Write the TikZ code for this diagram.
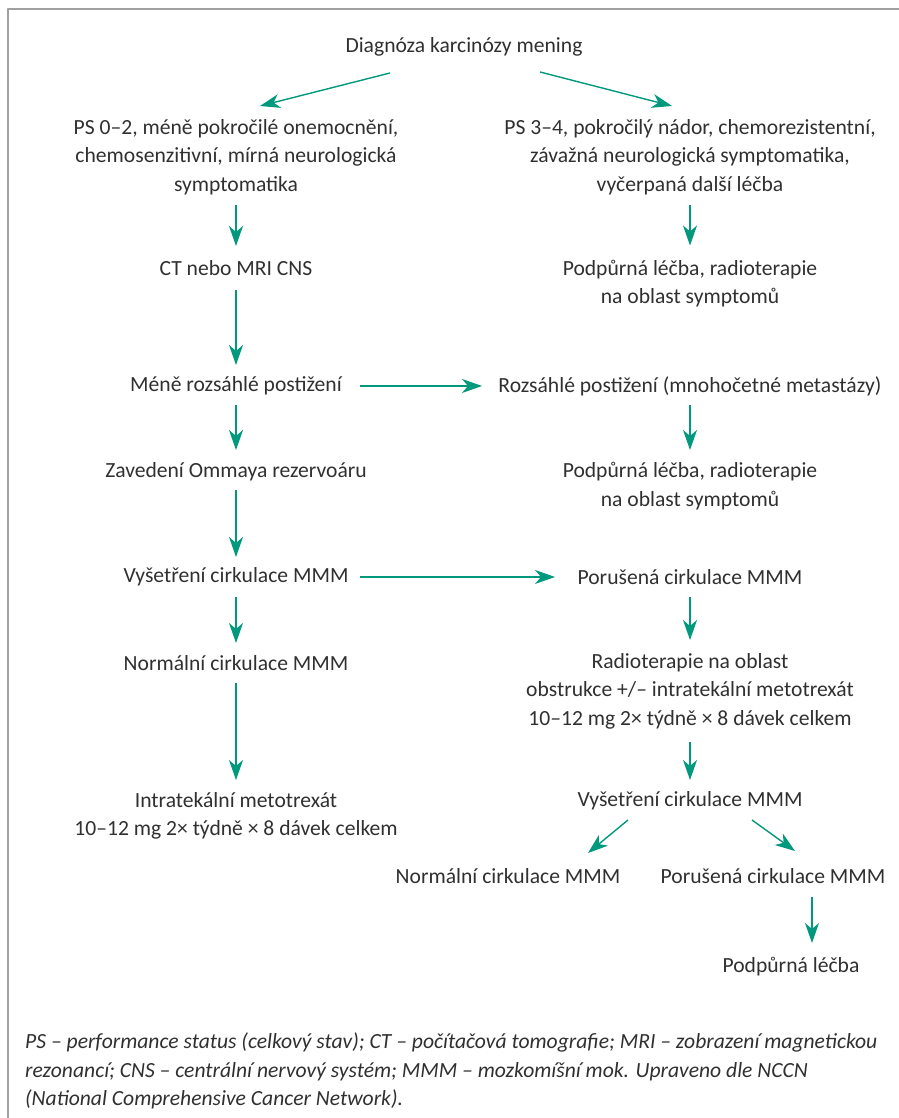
\documentclass[tikz,border=0pt]{standalone}
\usepackage{fontspec}
\setmainfont{Carlito}
\usetikzlibrary{arrows.meta}
\definecolor{flow}{HTML}{00997D}
\definecolor{ink}{HTML}{303030}
\definecolor{rule}{HTML}{A0A0A0}
\begin{document}
\begin{tikzpicture}[>={Stealth[length=20bp,width=14bp,inset=6bp]},line join=bevel,
  every node/.style={text=ink,align=center,inner sep=0pt,font=\fontsize{21.6bp}{28.5bp}\selectfont},
  conn/.style={flow,->,line width=1.4bp}]
%%
\useasboundingbox (0bp,0bp) rectangle (899bp,1118bp);
\draw [rule,line width=2bp] (8bp,0bp) -- (8bp,1109bp) -- (899bp,1109bp);
%%
\node (node_0) at (464.0bp,1071.0bp) {Diagnóza karcinózy mening};
  \node (node_1) at (236.0bp,961.0bp) {PS 0–2, méně pokročilé onemocnění,\\chemosenzitivní, mírná neurologická\\symptomatika};
  \node (node_2) at (690.0bp,961.0bp) {PS 3–4, pokročilý nádor, chemorezistentní,\\závažná neurologická symptomatika,\\vyčerpaná další léčba};
  \node (node_3) at (236.0bp,850.0bp) {CT nebo MRI CNS};
  \node (node_4) at (690.0bp,834.5bp) {Podpůrná léčba, radioterapie\\na oblast symptomů};
  \node (node_5) at (236.0bp,732.0bp) {Méně rozsáhlé postižení};
  \node (node_6) at (690.0bp,732.0bp) {Rozsáhlé postižení (mnohočetné metastázy)};
  \node (node_7) at (236.0bp,646.0bp) {Zavedení Ommaya rezervoáru};
  \node (node_8) at (690.0bp,632.0bp) {Podpůrná léčba, radioterapie\\na oblast symptomů};
  \node (node_9) at (236.0bp,541.0bp) {Vyšetření cirkulace MMM};
  \node (node_10) at (690.0bp,541.0bp) {Porušená cirkulace MMM};
  \node (node_11) at (236.0bp,455.0bp) {Normální cirkulace MMM};
  \node (node_12) at (690.0bp,427.0bp) {Radioterapie na oblast\\obstrukce +/– intratekální metotrexát\\10–12 mg 2× týdně × 8 dávek celkem};
  \node (node_13) at (236.0bp,302.0bp) {Intratekální metotrexát\\10–12 mg 2× týdně × 8 dávek celkem};
  \node (node_14) at (690.0bp,317.0bp) {Vyšetření cirkulace MMM};
  \node (node_15) at (508.0bp,242.0bp) {Normální cirkulace MMM};
  \node (node_16) at (773.0bp,242.0bp) {Porušená cirkulace MMM};
  \node (node_17) at (791.0bp,151.0bp) {Podpůrná léčba};
  \node (node_18) at (25.0bp,47.0bp) [anchor=west,align=left,font=\fontsize{21.6bp}{28.5bp}\selectfont\itshape] {PS – performance status (celkový stav); CT – počítačová tomografie; MRI – zobrazení magnetickou\\rezonancí; CNS – centrální nervový systém; MMM – mozkomíšní mok. Upraveno dle NCCN\\(National Comprehensive Cancer Network).};
%%
  \draw [conn] ([xshift=-74bp,yshift=-26bp]node_0.center) -- ([xshift=24bp,yshift=51bp]node_1.center);
  \draw [conn] ([xshift=76bp,yshift=-25bp]node_0.center) -- ([xshift=-18bp,yshift=51bp]node_2.center);
  \draw [conn] ([yshift=-48bp]node_1.center) -- ([yshift=22bp]node_3.center);
  \draw [conn] ([yshift=-22bp]node_3.center) -- ([yshift=21bp]node_5.center);
  \draw [conn] ([yshift=-19bp]node_5.center) -- ([yshift=22bp]node_7.center);
  \draw [conn] ([yshift=-18bp]node_7.center) -- ([yshift=20bp]node_9.center);
  \draw [conn] ([yshift=-20bp]node_9.center) -- ([yshift=20bp]node_11.center);
  \draw [conn] ([yshift=-20bp]node_11.center) -- ([yshift=36bp]node_13.center);
  \draw [conn] ([yshift=-48bp]node_2.center) -- ([yshift=38bp]node_4.center);
  \draw [conn] ([xshift=124bp]node_5.center) -- ([xshift=-208bp]node_6.center);
  \draw [conn] ([yshift=-19bp]node_6.center) -- ([yshift=36bp]node_8.center);
  \draw [conn] ([xshift=124bp]node_9.center) -- ([xshift=-135bp]node_10.center);
  \draw [conn] ([yshift=-20bp]node_10.center) -- ([yshift=51bp]node_12.center);
  \draw [conn] ([yshift=-51bp]node_12.center) -- ([yshift=21bp]node_14.center);
  \draw [conn] ([xshift=-62bp,yshift=-19bp]node_14.center) -- ([xshift=80bp,yshift=23bp]node_15.center);
  \draw [conn] ([xshift=62bp,yshift=-19bp]node_14.center) -- ([xshift=22bp,yshift=25bp]node_16.center);
  \draw [conn] ([xshift=39bp,yshift=-21bp]node_16.center) -- ([xshift=21bp,yshift=24bp]node_17.center);
%
\end{tikzpicture}
\end{document}
